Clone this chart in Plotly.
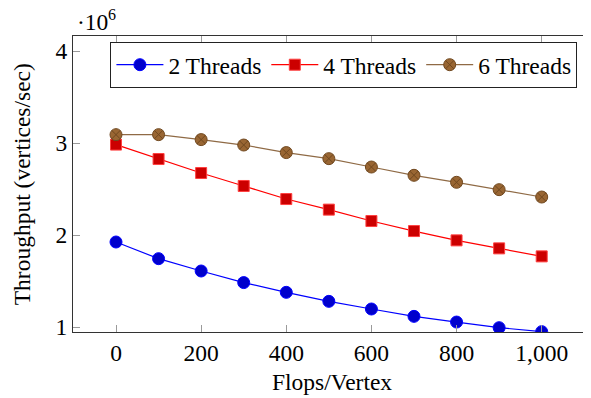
import plotly.graph_objects as go

flops = [0, 100, 200, 300, 400, 500, 600, 700, 800, 900, 1000]
threads2 = [1.924, 1.743, 1.609, 1.483, 1.377, 1.279, 1.196, 1.116, 1.054, 0.993, 0.95]
threads4 = [2.983, 2.826, 2.674, 2.533, 2.391, 2.276, 2.152, 2.043, 1.942, 1.855, 1.768]
threads6 = [3.091, 3.091, 3.037, 2.978, 2.896, 2.830, 2.739, 2.649, 2.573, 2.493, 2.413]
series_names = ["2 Threads", "4 Threads", "6 Threads"]
x_ticks = [0, 200, 400, 600, 800, 1000]
y_ticks = [1, 2, 3, 4]

FONT = "Liberation Serif"
FS = 23.5

fig = go.Figure()
fig.add_trace(go.Scatter(
    x=flops, y=threads2, name=series_names[0], mode="lines+markers",
    line=dict(color="#0000ff", width=1.2),
    marker=dict(symbol="circle", size=12, color="#0000cc", line=dict(color="#0000ff", width=1))))
fig.add_trace(go.Scatter(
    x=flops, y=threads4, name=series_names[1], mode="lines+markers",
    line=dict(color="#ff0000", width=1.2),
    marker=dict(symbol="square", size=11, color="#cc0000", line=dict(color="#ff4040", width=1))))
fig.add_trace(go.Scatter(
    x=flops, y=threads6, name=series_names[2], mode="lines+markers",
    line=dict(color="#8f6a45", width=1.2),
    marker=dict(symbol="circle-x", size=12, color="#996633", line=dict(color="#70481f", width=1))))

fig.update_layout(
    width=591, height=398,
    margin=dict(l=65, r=8, t=28, b=74),
    paper_bgcolor="white", plot_bgcolor="white",
    font=dict(family=FONT, size=FS, color="black"),
    showlegend=True,
    legend=dict(
        orientation="h", x=0.523, xanchor="center", y=0.98, yanchor="top",
        bordercolor="#222", borderwidth=1, bgcolor="white",
        font=dict(family=FONT, size=FS), itemwidth=47, tracegroupgap=0,
    ),
    xaxis=dict(
        range=[-101, 1115.8], tickvals=x_ticks, tickformat=",d",
        showgrid=False, zeroline=False,
        showline=True, linecolor="#333", linewidth=1, mirror="allticks",
        ticks="inside", ticklen=7, tickcolor="#9a9a9a", tickwidth=1.3,
        tickfont=dict(family=FONT, size=FS),
    ),
    yaxis=dict(
        range=[0.946, 4.163], tickvals=y_ticks,
        showgrid=False, zeroline=False,
        showline=True, linecolor="#333", linewidth=1, mirror="allticks",
        ticks="inside", ticklen=7, tickcolor="#9a9a9a", tickwidth=1.3,
        tickfont=dict(family=FONT, size=FS),
    ),
    annotations=[
        dict(text="Flops/Vertex", xref="paper", yref="paper", x=0.5, y=-0.169,
             xanchor="center", yanchor="middle", showarrow=False,
             font=dict(family=FONT, size=FS)),
        dict(text="Throughput (vertices/sec)", xref="paper", yref="paper",
             x=-0.098, y=0.5, xanchor="center", yanchor="middle", textangle=-90,
             showarrow=False, font=dict(family=FONT, size=FS)),
        dict(text="·10", xref="paper", yref="paper", x=0.0714, y=1.047,
             xanchor="right", yanchor="middle", showarrow=False,
             font=dict(family=FONT, size=FS)),
        dict(text="6", xref="paper", yref="paper", x=0.0656, y=1.072,
             xanchor="left", yanchor="middle", showarrow=False, borderpad=0,
             font=dict(family=FONT, size=16)),
    ],
)

fig.write_html("out.html")
